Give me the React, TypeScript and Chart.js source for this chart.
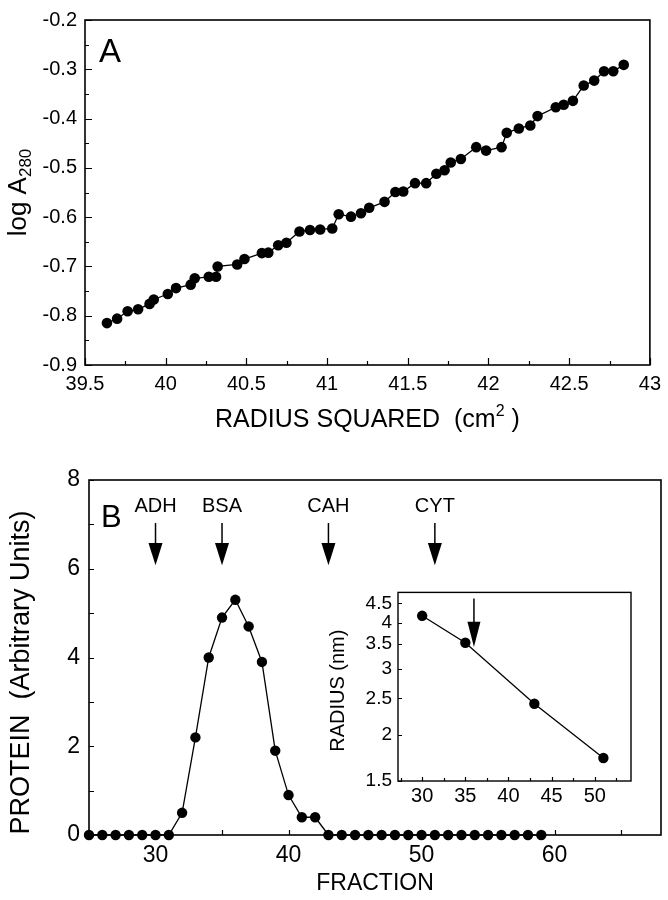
import React, { useEffect, useRef } from "react";
import { Chart, registerables } from "chart.js";
Chart.register(...registerables);

const FONT = '"Liberation Sans", Arial, Helvetica, sans-serif';

// ---------- Panel A data ----------
const radiusSquared = [
  39.636, 39.699, 39.764, 39.829, 39.9, 39.926, 40.013, 40.064, 40.155, 40.18,
  40.267, 40.312, 40.322, 40.443, 40.488, 40.596, 40.636, 40.697, 40.748, 40.829,
  40.894, 40.957, 41.032, 41.072, 41.148, 41.21, 41.261, 41.356, 41.423, 41.472,
  41.545, 41.614, 41.677, 41.728, 41.766, 41.829, 41.924, 41.985, 42.081, 42.113,
  42.188, 42.259, 42.304, 42.417, 42.466, 42.523, 42.59, 42.655, 42.716, 42.773,
  42.838,
];
const logA280 = [
  -0.815, -0.806, -0.791, -0.787, -0.776, -0.767, -0.756, -0.744, -0.737, -0.724,
  -0.721, -0.721, -0.7, -0.696, -0.685, -0.673, -0.672, -0.657, -0.652, -0.629,
  -0.626, -0.625, -0.623, -0.594, -0.599, -0.592, -0.581, -0.569, -0.549, -0.548,
  -0.531, -0.531, -0.512, -0.505, -0.489, -0.482, -0.458, -0.465, -0.458, -0.429,
  -0.42, -0.414, -0.395, -0.377, -0.372, -0.364, -0.333, -0.323, -0.304, -0.304,
  -0.291,
];
const aXTicks = [39.5, 40, 40.5, 41, 41.5, 42, 42.5, 43];
const aXMinor = [39.75, 40.25, 40.75, 41.25, 41.75, 42.25, 42.75];
const aYTicks = [-0.9, -0.8, -0.7, -0.6, -0.5, -0.4, -0.3, -0.2];
const aYMinor = [-0.85, -0.75, -0.65, -0.55, -0.45, -0.35, -0.25];

// ---------- Panel B data ----------
const fractions = [
  25, 26, 27, 28, 29, 30, 31, 32, 33, 34, 35, 36, 37, 38, 39, 40, 41, 42,
  43, 44, 45, 46, 47, 48, 49, 50, 51, 52, 53, 54, 55, 56, 57, 58, 59,
];
const protein = [
  0, 0, 0, 0, 0, 0, 0, 0.5, 2.2, 4.0, 4.9, 5.3, 4.7, 3.9, 1.9, 0.9, 0.4, 0.4,
  0, 0, 0, 0, 0, 0, 0, 0, 0, 0, 0, 0, 0, 0, 0, 0, 0,
];
const markerLabels = ["ADH", "BSA", "CAH", "CYT"];
const markerFractions = [30, 35, 43, 51];
const bXTicks = [30, 40, 50, 60];
const bXMinor = [35, 45, 55, 65];
const bYTicks = [0, 2, 4, 6, 8];
const bYMinor = [1, 3, 5, 7];
const bArrowTop = 7.03;
const bArrowHead = 6.58;
const bArrowTip = 6.08;
const bLabelY = 7.4;

// ---------- Inset data ----------
const standardFractions = [30, 35, 43, 51];
const stokesRadius = [4.17, 3.53, 2.42, 1.73];
const sampleFraction = 36;
const insetArrowTop = 4.64;
const insetArrowHead = 4.02;
const insetArrowTip = 3.44;
const insetXTicks = [30, 35, 40, 45, 50];
const insetXMinor = [27.5, 32.5, 37.5, 42.5, 47.5, 52.5];
const insetYTicks = [1.5, 2, 2.5, 3, 3.5, 4, 4.5];

type Piece = { text: string; size: number; dy: number };

function drawRich(ctx: CanvasRenderingContext2D, pieces: Piece[], cx: number, cy: number, rotate: boolean, baseSize: number) {
  ctx.save();
  ctx.fillStyle = "#000";
  ctx.textBaseline = "alphabetic";
  ctx.textAlign = "left";
  let total = 0;
  const widths = pieces.map((p) => {
    ctx.font = `${p.size}px ${FONT}`;
    const w = ctx.measureText(p.text).width;
    total += w;
    return w;
  });
  ctx.translate(cx, cy);
  if (rotate) ctx.rotate(-Math.PI / 2);
  let x = -total / 2;
  const base = baseSize * 0.36;
  pieces.forEach((p, i) => {
    ctx.font = `${p.size}px ${FONT}`;
    ctx.fillText(p.text, x, base + p.dy);
    x += widths[i];
  });
  ctx.restore();
}

function drawFrameAndTicks(
  chart: any,
  xMajor: number[], xMinor: number[], yMajor: number[], yMinor: number[],
  majLen: number, minLen: number, frameWidth: number
) {
  const { ctx, chartArea: a, scales } = chart;
  const xs = scales.x;
  const ys = scales.y;
  ctx.save();
  ctx.strokeStyle = "#000";
  ctx.lineWidth = 1.2;
  ctx.beginPath();
  const vx = (list: number[], len: number) =>
    list.forEach((v) => {
      const px = Math.round(xs.getPixelForValue(v)) + 0.5;
      ctx.moveTo(px, a.bottom);
      ctx.lineTo(px, a.bottom - len);
    });
  const vy = (list: number[], len: number) =>
    list.forEach((v) => {
      const py = Math.round(ys.getPixelForValue(v)) + 0.5;
      ctx.moveTo(a.left, py);
      ctx.lineTo(a.left + len, py);
    });
  vx(xMajor, majLen);
  vx(xMinor, minLen);
  vy(yMajor, majLen);
  vy(yMinor, minLen);
  ctx.stroke();
  ctx.lineWidth = frameWidth;
  ctx.strokeRect(a.left, a.top, a.right - a.left, a.bottom - a.top);
  ctx.restore();
}

function drawArrow(ctx: CanvasRenderingContext2D, x: number, yTop: number, yHead: number, yTip: number, halfW: number) {
  ctx.save();
  ctx.strokeStyle = "#000";
  ctx.fillStyle = "#000";
  ctx.lineWidth = 1.5;
  ctx.beginPath();
  ctx.moveTo(x, yTop);
  ctx.lineTo(x, yHead + 1);
  ctx.stroke();
  ctx.beginPath();
  ctx.moveTo(x - halfW, yHead);
  ctx.lineTo(x + halfW, yHead);
  ctx.lineTo(x, yTip);
  ctx.closePath();
  ctx.fill();
  ctx.restore();
}

const fmt1 = (v: number) => String(Number(v.toFixed(2)));

function makeTicks(list: number[]) {
  return (scale: any) => {
    scale.ticks = list.map((v) => ({ value: v }));
  };
}

export default function App() {
  const refA = useRef<HTMLCanvasElement>(null);
  const refB = useRef<HTMLCanvasElement>(null);
  const refI = useRef<HTMLCanvasElement>(null);

  useEffect(() => {
    const charts: Chart[] = [];

    // Panel A
    const chartA = new Chart(refA.current!, {
      type: "line",
      data: {
        datasets: [
          {
            data: radiusSquared.map((x, i) => ({ x, y: logA280[i] })),
            borderColor: "#000",
            backgroundColor: "#000",
            borderWidth: 1.3,
            pointRadius: 5.3,
            pointBorderWidth: 0,
            pointBackgroundColor: "#000",
            tension: 0,
            clip: false as any,
          },
        ],
      },
      options: {
        responsive: false,
        animation: false,
        events: [],
        layout: { padding: { top: 6, right: 8, left: 0, bottom: 0 } },
        plugins: { legend: { display: false }, tooltip: { enabled: false } },
        scales: {
          x: {
            type: "linear",
            min: 39.5,
            max: 43,
            grid: { display: false, drawTicks: false },
            border: { display: false },
            afterBuildTicks: makeTicks(aXTicks),
            afterFit: (s: any) => { s.height = 75; },
            ticks: { color: "#000", font: { family: FONT, size: 20 }, padding: 7, maxRotation: 0, autoSkip: false, callback: (v: any) => fmt1(Number(v)) },
          },
          y: {
            type: "linear",
            min: -0.9,
            max: -0.2,
            grid: { display: false, drawTicks: false },
            border: { display: false },
            afterBuildTicks: makeTicks(aYTicks),
            afterFit: (s: any) => { s.width = 85; },
            ticks: { color: "#000", font: { family: FONT, size: 20 }, padding: 8, autoSkip: false, callback: (v: any) => Number(v).toFixed(1) },
          },
        },
      },
      plugins: [
        {
          id: "decorA",
          afterDatasetsDraw(chart: any) {
            drawFrameAndTicks(chart, aXTicks, aXMinor, aYTicks, aYMinor, 7, 4, 1.6);
            const { ctx, chartArea: a } = chart;
            ctx.save();
            ctx.fillStyle = "#000";
            ctx.font = `33px ${FONT}`;
            ctx.textAlign = "left";
            ctx.textBaseline = "alphabetic";
            ctx.fillText("A", a.left + 14, a.top + 42);
            ctx.restore();
            drawRich(ctx, [
              { text: "RADIUS SQUARED  (cm", size: 25, dy: 0 },
              { text: "2", size: 16, dy: -11 },
              { text: " )", size: 25, dy: 0 },
            ], (a.left + a.right) / 2, 418, false, 25);
            drawRich(ctx, [
              { text: "log A", size: 26, dy: 0 },
              { text: "280", size: 17, dy: 5 },
            ], 17, (a.top + a.bottom) / 2, true, 26);
          },
        },
      ],
    } as any);
    charts.push(chartA);

    // Panel B
    const chartB = new Chart(refB.current!, {
      type: "line",
      data: {
        datasets: [
          {
            data: fractions.map((x, i) => ({ x, y: protein[i] })),
            borderColor: "#000",
            backgroundColor: "#000",
            borderWidth: 1.3,
            pointRadius: 5.2,
            pointBorderWidth: 0,
            pointBackgroundColor: "#000",
            tension: 0,
            clip: false as any,
          },
        ],
      },
      options: {
        responsive: false,
        animation: false,
        events: [],
        layout: { padding: { top: 40, right: 7, left: 0, bottom: 0 } },
        plugins: { legend: { display: false }, tooltip: { enabled: false } },
        scales: {
          x: {
            type: "linear",
            min: 25,
            max: 68,
            grid: { display: false, drawTicks: false },
            border: { display: false },
            afterBuildTicks: makeTicks(bXTicks),
            afterFit: (s: any) => { s.height = 65; },
            ticks: { color: "#000", font: { family: FONT, size: 23 }, padding: 7, maxRotation: 0, autoSkip: false, callback: (v: any) => String(v) },
          },
          y: {
            type: "linear",
            min: 0,
            max: 8,
            grid: { display: false, drawTicks: false },
            border: { display: false },
            afterBuildTicks: makeTicks(bYTicks),
            afterFit: (s: any) => { s.width = 89; },
            ticks: { color: "#000", font: { family: FONT, size: 23 }, padding: 9, autoSkip: false, callback: (v: any) => String(v) },
          },
        },
      },
      plugins: [
        {
          id: "decorB",
          afterDatasetsDraw(chart: any) {
            drawFrameAndTicks(chart, bXTicks, bXMinor, bYTicks, bYMinor, 5, 5, 1.6);
            const { ctx, chartArea: a, scales } = chart;
            ctx.save();
            ctx.fillStyle = "#000";
            ctx.font = `31px ${FONT}`;
            ctx.textAlign = "left";
            ctx.textBaseline = "alphabetic";
            ctx.fillText("B", a.left + 12, a.top + 47);
            ctx.font = `20px ${FONT}`;
            ctx.textAlign = "center";
            ctx.textBaseline = "middle";
            markerLabels.forEach((lab, i) => {
              const x = scales.x.getPixelForValue(markerFractions[i]);
              ctx.fillText(lab, x, scales.y.getPixelForValue(bLabelY));
              drawArrow(ctx, x, scales.y.getPixelForValue(bArrowTop), scales.y.getPixelForValue(bArrowHead), scales.y.getPixelForValue(bArrowTip), 7);
            });
            ctx.restore();
            drawRich(ctx, [{ text: "FRACTION", size: 23, dy: 0 }], (a.left + a.right) / 2, 442, false, 23);
            drawRich(ctx, [{ text: "PROTEIN  (Arbitrary Units)", size: 27, dy: 0 }], 19, (a.top + a.bottom) / 2 + 15, true, 27);
          },
        },
      ],
    } as any);
    charts.push(chartB);

    // Inset
    const chartI = new Chart(refI.current!, {
      type: "line",
      data: {
        datasets: [
          {
            data: standardFractions.map((x, i) => ({ x, y: stokesRadius[i] })),
            borderColor: "#000",
            backgroundColor: "#000",
            borderWidth: 1.3,
            pointRadius: 5.2,
            pointBorderWidth: 0,
            pointBackgroundColor: "#000",
            tension: 0,
            clip: false as any,
          },
        ],
      },
      options: {
        responsive: false,
        animation: false,
        events: [],
        layout: { padding: { top: 10, right: 14, left: 0, bottom: 0 } },
        plugins: { legend: { display: false }, tooltip: { enabled: false } },
        scales: {
          x: {
            type: "linear",
            min: 27.2,
            max: 54.2,
            grid: { display: false, drawTicks: false },
            border: { display: false },
            afterBuildTicks: makeTicks(insetXTicks),
            afterFit: (s: any) => { s.height = 34; },
            ticks: { color: "#000", font: { family: FONT, size: 20 }, padding: 3, maxRotation: 0, autoSkip: false, callback: (v: any) => String(v) },
          },
          y: {
            type: "logarithmic",
            min: 1.5,
            max: 4.82,
            grid: { display: false, drawTicks: false },
            border: { display: false },
            afterBuildTicks: makeTicks(insetYTicks),
            afterFit: (s: any) => { s.width = 73; },
            ticks: { color: "#000", font: { family: FONT, size: 19 }, padding: 6, autoSkip: false, callback: (v: any) => fmt1(Number(v)) },
          },
        },
      },
      plugins: [
        {
          id: "insetBg",
          beforeDraw(chart: any) {
            const { ctx, chartArea: a } = chart;
            ctx.save();
            ctx.fillStyle = "#fff";
            ctx.fillRect(a.left, a.top, a.right - a.left, a.bottom - a.top);
            ctx.restore();
          },
        },
        {
          id: "decorI",
          afterDatasetsDraw(chart: any) {
            drawFrameAndTicks(chart, insetXTicks, insetXMinor, insetYTicks, [], 4, 3, 1.4);
            const { ctx, chartArea: a, scales } = chart;
            const x = scales.x.getPixelForValue(sampleFraction);
            drawArrow(ctx, x, scales.y.getPixelForValue(insetArrowTop), scales.y.getPixelForValue(insetArrowHead), scales.y.getPixelForValue(insetArrowTip), 6.5);
            drawRich(ctx, [{ text: "RADIUS (nm)", size: 20, dy: 0 }], 12, (a.top + a.bottom) / 2 + 4, true, 20);
          },
        },
      ],
    } as any);
    charts.push(chartI);

    return () => charts.forEach((c) => c.destroy());
  }, []);

  return (
    <div style={{ position: "absolute", left: 0, top: 0, width: 668, height: 900, background: "#fff", overflow: "hidden" }}>
      <canvas ref={refA} width={668} height={440} style={{ position: "absolute", left: 0, top: 0, width: 668, height: 440 }} />
      <canvas ref={refB} width={668} height={460} style={{ position: "absolute", left: 0, top: 440, width: 668, height: 460 }} />
      <canvas ref={refI} width={320} height={240} style={{ position: "absolute", left: 325, top: 575, width: 320, height: 240 }} />
    </div>
  );
}
